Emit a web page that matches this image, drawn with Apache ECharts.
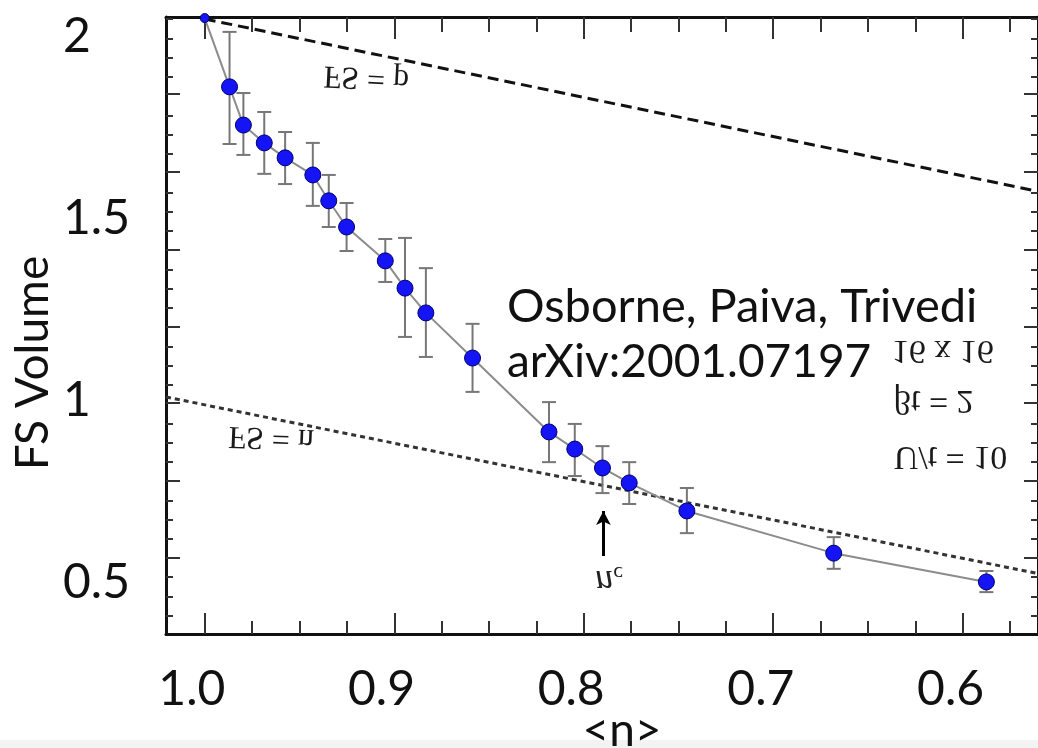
<!DOCTYPE html>
<html><head><meta charset="utf-8">
<script src="https://cdn.jsdelivr.net/npm/echarts@6/dist/echarts.min.js"></script>
<style>html,body{margin:0;padding:0;background:#fff}#c{width:1038px;height:748px}</style>
</head><body><div id="c"></div>
<script>
// ---- data ----
const densityN = [0.9932,0.9801,0.9728,0.9618,0.9508,0.9362,0.9278,0.9184,0.8980,0.8876,0.8766,0.8520,0.8117,0.7981,0.7835,0.7694,0.7390,0.6616,0.5811];
const fsVolume = [2.052,1.863,1.758,1.709,1.668,1.621,1.550,1.478,1.385,1.310,1.242,1.118,0.915,0.868,0.816,0.775,0.698,0.582,0.503];
const errLow   = [null,1.706,1.676,1.624,1.596,1.536,1.478,1.412,1.327,1.176,1.121,1.025,0.832,0.794,0.747,0.717,0.637,0.539,0.475];
const errHigh  = [null,2.014,1.846,1.794,1.739,1.709,1.621,1.544,1.445,1.448,1.365,1.212,0.997,0.937,0.876,0.832,0.761,0.626,0.533];
const lineFSp = [[0.9932,2.0495],[0.554,1.576]];
const lineFSn = [[1.0136,1.011],[0.554,0.526]];
const arrowNc = [[0.783,0.5742],[0.783,0.6978]];
const xTickLabels = [1.0,0.9,0.8,0.7,0.6];
const yTickLabels = [2,1.5,1,0.5];
const xMajorTicks = [0.9932,0.8928,0.7934,0.6935,0.5936];
const yMajorTicks = [0.5687,0.7802,0.9945,1.2033,1.4148,1.6291,1.8434];
const annotations = [
  {text:'FS = p', at:[0.908,1.890], align:'center', size:32, rot:-0.05},
  {text:'FS = n', at:[0.9582,0.901], align:'center', size:32, rot:-0.04},
  {text:'16 x 16', at:[0.6310,1.140], align:'left', size:34, rot:0},
  {text:'βt = 2', at:[0.6300,1.003], align:'left', size:34, rot:0},
  {text:'U/t = 10', at:[0.6300,0.849], align:'left', size:34, rot:0}
];
const ncLabel = {at:[0.7800,0.5082]};

const X_MIN = 0.5539, X_MAX = 1.0136, Y_MIN = 0.3599, Y_MAX = 2.0549;

function minorOf(majors, lo, hi){
  const s = majors.slice().sort((a,b)=>a-b);
  const step = (s[1]-s[0])/4;
  const out = [];
  for (let v = s[0]-4*step; v <= s[s.length-1]+4*step+1e-9; v += step){
    const isMajor = s.some(m=>Math.abs(m-v)<step/3);
    if (!isMajor && v>lo && v<hi) out.push(+v.toFixed(5));
  }
  return out;
}
const xMinor = minorOf(xMajorTicks, X_MIN, X_MAX);
const yMinor = minorOf(yMajorTicks, Y_MIN, Y_MAX);

const tickStyle = {color:'#333', width:2};
function xAx(pos, ticks, len, line, labels){
  return {type:'value', position:pos, min:X_MIN, max:X_MAX, inverse:true,
    axisLine:{show:line, onZero:false, lineStyle:{color:'#111', width:3}},
    axisTick:{show:true, inside:true, length:len, customValues:ticks, lineStyle:tickStyle},
    axisLabel: labels ? {show:true, customValues:xTickLabels, formatter:v=>v.toFixed(1),
       fontFamily:'Lato', fontSize:48, color:'#111', margin:32} : {show:false},
    splitLine:{show:false}};
}
function yAx(pos, ticks, len, line, labels){
  return {type:'value', position:pos, min:Y_MIN, max:Y_MAX,
    axisLine:{show:line, onZero:false, lineStyle:{color:'#111', width:3}},
    axisTick:{show:true, inside:true, length:len, customValues:ticks, lineStyle:tickStyle},
    axisLabel: labels ? {show:true, customValues:yTickLabels, formatter:v=>String(v),
       fontFamily:'Lato', fontSize:48, color:'#111', margin:103, align:'left'} : {show:false},
    splitLine:{show:false}};
}

const chart = echarts.init(document.getElementById('c'), null, {renderer:'canvas'});
const pts = densityN.map((x,i)=>[x, fsVolume[i]]);
const errs = densityN.map((x,i)=>[x, errLow[i], errHigh[i]]).filter(d=>d[1]!=null);

chart.setOption({
  animation:false,
  backgroundColor:'#fff',
  grid:{left:166, top:17, width:879, height:617, containLabel:false},
  xAxis:[
    xAx('bottom', xMajorTicks, 21, true, true),
    xAx('bottom', xMinor, 13, false, false),
    xAx('top', xMajorTicks, 22, true, false),
    xAx('top', xMinor, 15, false, false)
  ],
  yAxis:[
    yAx('left', yMajorTicks, 14, true, true),
    yAx('left', yMinor, 7, false, false),
    yAx('right', yMajorTicks, 14, true, false),
    yAx('right', yMinor, 7, false, false)
  ],
  series:[
    {type:'line', data:lineFSp, symbol:'none', silent:true, z:2,
     lineStyle:{color:'#111', width:3, type:[11,6]}},
    {type:'line', data:lineFSn, symbol:'none', silent:true, z:2,
     lineStyle:{color:'#333', width:3, type:[5,4]}},
    {type:'line', data:pts, symbol:'none', silent:true, z:3,
     lineStyle:{color:'#8c8c8c', width:2}},
    {type:'custom', data:errs, z:4, silent:true,
     encode:{x:0, y:[1,2]},
     renderItem:function(params, api){
       const x = api.value(0);
       const a = api.coord([x, api.value(1)]), b = api.coord([x, api.value(2)]);
       const hw = 7, st = {stroke:'#777', lineWidth:2};
       return {type:'group', children:[
         {type:'line', shape:{x1:a[0],y1:a[1],x2:b[0],y2:b[1]}, style:st},
         {type:'line', shape:{x1:a[0]-hw,y1:a[1],x2:a[0]+hw,y2:a[1]}, style:st},
         {type:'line', shape:{x1:b[0]-hw,y1:b[1],x2:b[0]+hw,y2:b[1]}, style:st}
       ]};
     }},
    {type:'scatter', data:pts, symbol:'circle', z:5, silent:true,
     symbolSize:function(v, p){ return p.dataIndex === 0 ? 9 : 16; },
     itemStyle:{color:'#1414f5', borderColor:'#000070', borderWidth:1, opacity:1}},
    {type:'line', data:[], symbol:'none', silent:true, z:6,
     markLine:{silent:true, symbol:['none','arrow'], symbolSize:[11,14], label:{show:false},
       lineStyle:{color:'#000', width:3, type:'solid'},
       data:[[{coord:arrowNc[0]},{coord:arrowNc[1]}]]}}
  ]
});

function px(p){ return chart.convertToPixel({gridIndex:0}, p); }
const g = [];
g.push({type:'rect', shape:{x:0,y:740,width:1038,height:8}, style:{fill:'#f3f3f3'}, z:0, silent:true});
annotations.forEach(a=>{
  const p = px(a.at);
  g.push({type:'text', x:p[0], y:p[1], scaleY:-1, rotation:a.rot, z:10, silent:true,
    style:{text:a.text, fontFamily:'Liberation Serif', fontSize:a.size, fill:'#1a1a1a', align:a.align, verticalAlign:'middle'}});
});
{
  const p = px(ncLabel.at);
  g.push({type:'text', x:p[0], y:p[1], scaleY:-1, z:10, silent:true,
    style:{text:'{a|n}{b|c}', align:'center', verticalAlign:'middle',
      rich:{a:{fontFamily:'Liberation Serif', fontStyle:'italic', fontSize:36, fill:'#222', lineHeight:36, verticalAlign:'bottom'},
            b:{fontFamily:'Liberation Serif', fontSize:22, fill:'#222', verticalAlign:'bottom', lineHeight:36}}}});
}
g.push({type:'text', x:507, y:307, z:10, silent:true,
  style:{text:'Osborne, Paiva, Trivedi', fontFamily:'Lato', fontSize:47, fill:'#111', align:'left', verticalAlign:'middle'}});
g.push({type:'text', x:507, y:362, z:10, silent:true,
  style:{text:'arXiv:2001.07197', fontFamily:'Lato', fontSize:46, fill:'#111', align:'left', verticalAlign:'middle'}});
g.push({type:'text', x:33, y:363, rotation:Math.PI/2, z:10, silent:true,
  style:{text:'FS Volume', fontFamily:'Lato', fontSize:46, fill:'#111', align:'center', verticalAlign:'middle'}});
g.push({type:'text', x:622, y:731, z:10, silent:true,
  style:{text:'<n>', fontFamily:'Lato', fontSize:46, fill:'#111', align:'center', verticalAlign:'middle'}});
chart.setOption({graphic:{elements:g}});
</script></body></html>
